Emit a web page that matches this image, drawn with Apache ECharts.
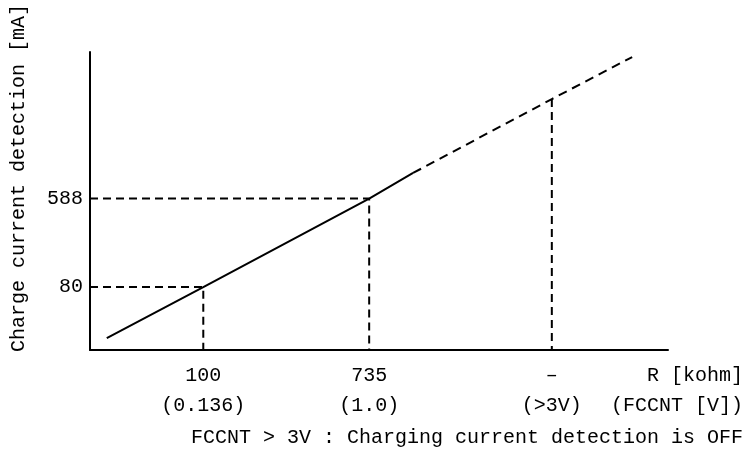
<!DOCTYPE html>
<html>
<head>
<meta charset="utf-8">
<script src="https://cdn.jsdelivr.net/npm/echarts@6/dist/echarts.min.js"></script>
<style>
  html, body { margin: 0; padding: 0; background: #fff; }
  #chart { width: 747px; height: 461px; }
</style>
</head>
<body>
<div id="chart"></div>
<script>
// Schematic chart: axes are in relative (schematic) units, labels give the real values.
const xTickPositions = [1.96, 4.83, 7.99];
const xTickLabels = ['100\n(0.136)', '735\n(1.0)', '\u2013\n(>3V)'];
const yTickPositions = [2.11, 5.08];
const yTickLabels = ['80', '588'];

// marked operating points (x, y) in schematic units
const markedPoints = [[1.96, 2.11], [4.83, 5.08], [7.99, 8.42]];
// points whose y value is labelled on the y axis
const markedHasY = [true, true, false];

// characteristic line: solid (guaranteed range) and dashed (extension)
const solidLine = [[0.29, 0.40], [1.96, 2.11], [4.83, 5.08], [5.59, 5.94]];
const dashedLine = [[5.59, 5.94], [7.99, 8.42], [9.38, 9.83]];

const xAxisName = 'R [kohm]\n(FCCNT [V])';
const yAxisName = 'Charge current detection [mA]';
const noteText = 'FCCNT > 3V : Charging current detection is OFF';

const FONT = 'Liberation Mono';

function lookup(positions, labels, v) {
  for (let i = 0; i < positions.length; i++) {
    if (Math.abs(positions[i] - v) < 1e-6) return labels[i];
  }
  return '';
}

const guideSeries = markedPoints.map((p, i) => ({
  type: 'line',
  data: markedHasY[i] ? [[0, p[1]], [p[0], p[1]], [p[0], 0]] : [[p[0], p[1]], [p[0], 0]],
  symbol: 'none',
  silent: true,
  lineStyle: { color: '#000', width: 2, type: [8, 5] },
  z: 1
}));

const chart = echarts.init(document.getElementById('chart'), null, { renderer: 'canvas' });
chart.setOption({
  animation: false,
  backgroundColor: '#fff',
  textStyle: { fontFamily: FONT, color: '#000' },
  title: {
    text: noteText,
    right: 4,
    top: 428,
    padding: 0,
    textStyle: { fontFamily: FONT, fontSize: 20, fontWeight: 'normal', color: '#000' }
  },
  grid: { left: 90, right: 79, top: 52, bottom: 111, containLabel: false },
  xAxis: {
    type: 'value',
    min: 0,
    max: 10,
    name: xAxisName,
    nameLocation: 'end',
    nameGap: 75,
    nameTextStyle: {
      fontFamily: FONT, fontSize: 20, color: '#000',
      align: 'right', verticalAlign: 'top', lineHeight: 30,
      padding: [11, 0, 0, 0]
    },
    axisLine: { show: true, lineStyle: { color: '#000', width: 2 } },
    axisTick: { show: false },
    splitLine: { show: false },
    axisLabel: {
      customValues: xTickPositions,
      formatter: v => lookup(xTickPositions, xTickLabels, v),
      fontFamily: FONT, fontSize: 20, color: '#000',
      lineHeight: 30, margin: 11
    }
  },
  yAxis: {
    type: 'value',
    min: 0,
    max: 10,
    name: yAxisName,
    nameLocation: 'middle',
    nameRotate: 90,
    nameGap: 61,
    nameTextStyle: { fontFamily: FONT, fontSize: 20, color: '#000', padding: [0, 0, 0, 46] },
    axisLine: { show: true, lineStyle: { color: '#000', width: 2 } },
    axisTick: { show: false },
    splitLine: { show: false },
    axisLabel: {
      customValues: yTickPositions,
      formatter: v => lookup(yTickPositions, yTickLabels, v),
      fontFamily: FONT, fontSize: 20, color: '#000', margin: 7
    }
  },
  series: [
    {
      type: 'line',
      name: 'solid',
      data: solidLine,
      symbol: 'none',
      lineStyle: { color: '#000', width: 2 },
      z: 3
    },
    {
      type: 'line',
      name: 'extension',
      data: dashedLine,
      symbol: 'none',
      lineStyle: { color: '#000', width: 2, type: [9, 6] },
      z: 3
    }
  ].concat(guideSeries)
});
</script>
</body>
</html>
